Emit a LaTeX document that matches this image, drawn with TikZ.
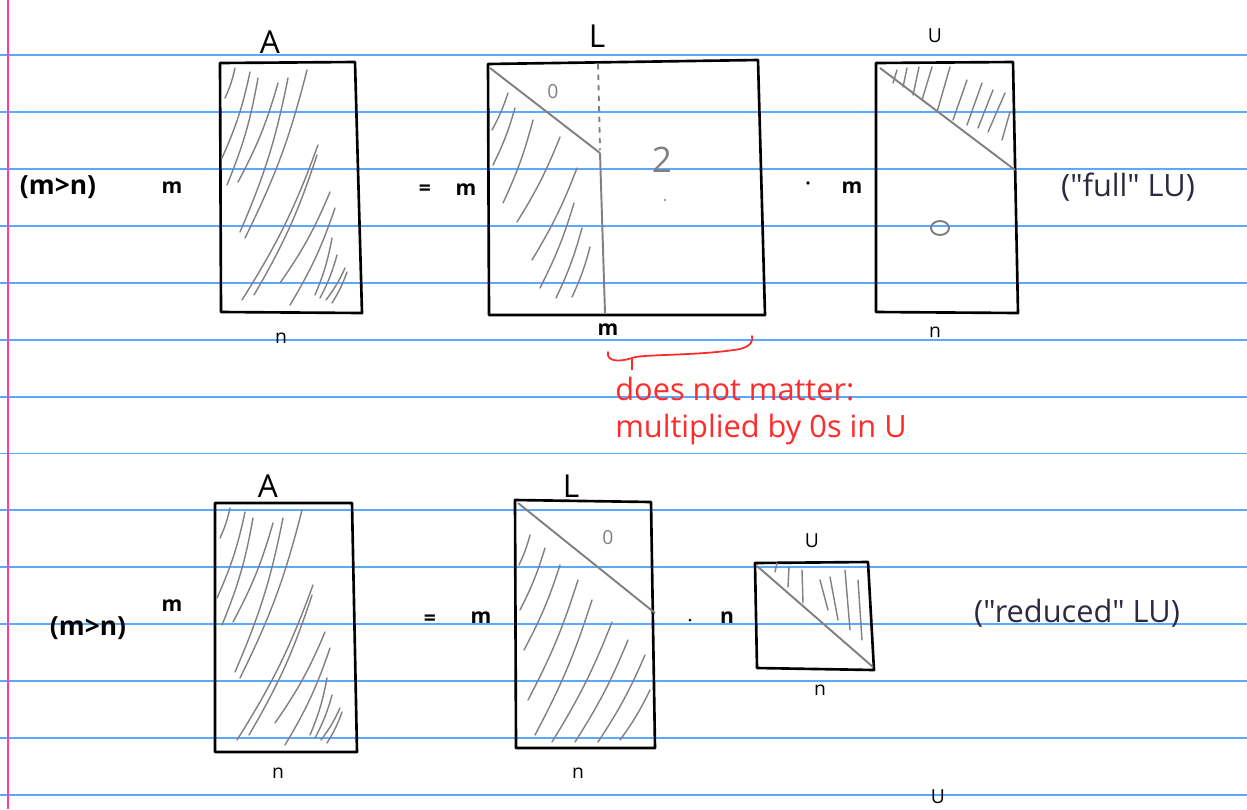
\documentclass[tikz,border=0pt]{standalone}
\usepackage{fontspec}
\setmainfont{Open Sans}
\newfontfamily\typedfont{Open Sans}[Ligatures=TeXOff]
\usetikzlibrary{positioning}
\definecolor{ruleblue}{HTML}{5AA8FF}
\definecolor{marginpink}{HTML}{FF3FA0}
\definecolor{inkgray}{HTML}{808080}
\definecolor{notered}{HTML}{FF2A2A}
\definecolor{typedink}{HTML}{2B2B40}
\tikzset{
  ruled/.style={ruleblue,line width=1.1pt},
  frame/.style={line width=1.5pt,line join=round},
  ink/.style={inkgray,line width=1.1pt},
  hatch/.style={inkgray,line width=0.8pt,line cap=round},
  hand/.style={font=\fontsize{12}{13}\selectfont\bfseries},
  handthin/.style={font=\fontsize{11}{12}\selectfont},
  handsize/.style={font=\fontsize{15}{16}\selectfont\bfseries},
  bigletter/.style={font=\fontsize{18}{20}\selectfont},
  typed/.style={typedink,font=\typedfont\fontsize{17.5}{21}\selectfont},
}

\begin{document}
\begin{tikzpicture}[x=0.02cm,y=-0.02cm]
\useasboundingbox (0,0) rectangle (1247,809);
% ruled paper
\foreach \k in {0,...,13}
  \draw[ruled] (0,{55.2+56.9*\k}) -- (1247,{55.2+56.9*\k});
\draw[marginpink,line width=1.2pt] (8,0) -- (8,809);

% ---- full LU ----
\node[handsize] (sizeA) at (58,187) {(m>n)};
\node[hand] (mA) at (172,188) {m};
\draw[frame] (220,63) -- (355,62) -- (362,313) -- (221,312) -- cycle;
\foreach \a/\b/\c/\d in {225/98/235/68, 222/158/250/72, 227/185/258/78, 238/182/278/83,
    240/232/288/78, 245/238/307/70, 242/300/318/145, 254/295/317/155, 280/283/330/192,
    290/305/335/208, 315/295/332/238, 320/298/337/255, 326/300/345/268, 332/303/347/272}
  \draw[hatch] (\a,\b) to[bend right=6] (\c,\d);
\node[bigletter] (lblA) at (270,42) {A};
\node[handthin] (nA) at (281,338) {n};

\node[hand] (eqone) at (425,190) {=};
\node[hand] (mL) at (466,190) {m};
\draw[frame] (488,64) -- (758,60) -- (765,315) -- (489,315) -- cycle;
\draw[ink] (490,68) -- (600,153);
\draw[ink,dashed] (598,64) -- (600,150);
\draw[ink] (600,153) -- (605,313);
\foreach \a/\b/\c/\d in {492/130/508/93, 493/165/515/108, 503/203/533/120, 517/222/560/137,
    532/260/577/168, 540/288/574/203, 556/298/582/228, 572/297/590/247}
  \draw[hatch] (\a,\b) to[bend right=5] (\c,\d);
\node[handthin,inkgray] (zeroL) at (553,92) {0};
\node[inkgray,font=\fontsize{20}{22}\selectfont] (askL) at (662,160) {2};
\fill[inkgray] (665,200) circle (1.2);
\node[bigletter] (lblL) at (597,36) {L};
\node[hand] (mLbelow) at (608,330) {m};

\fill (808,183) circle (1.8);
\node[hand] (mU) at (852,188) {m};
\draw[frame] (876,63) -- (1013,62) -- (1018,313) -- (876,312) -- cycle;
\draw[ink] (880,68) -- (1015,170);
\foreach \a/\b/\c/\d in {893/83/897/70, 903/87/907/68, 913/95/919/67, 922/100/932/67,
    937/112/950/67, 953/120/967/80, 967/125/982/83, 978/128/993/90, 988/132/1005/93,
    1002/140/1010/112}
  \draw[hatch] (\a,\b) -- (\c,\d);
\draw[ink] (940,228) ellipse (9 and 7);
\node[handthin] (lblU) at (935,36) {U};
\node[handthin] (nU) at (935,332) {n};
\node[typed] (full) at (1128,187) {("full" LU)};

% brace and note
\draw[notered,line width=1pt,line cap=round] (608,352) .. controls (606,362) and (620,362) .. (632,358)
  .. controls (640,354) and (700,356) .. (740,349) .. controls (752,346) and (753,340) .. (752,336);
\draw[notered,line width=1pt] (632,358) -- (632,370);
\node[typed,notered,anchor=north west,align=left,inner sep=0pt] (note) at (615,377)
  {does not matter:\\multiplied by 0s in U};

% ---- reduced LU ----
\node[handsize] (sizeB) at (88,628) {(m>n)};
\node[hand] (mB) at (172,606) {m};
\draw[frame] (215,503) -- (352,503) -- (357,752) -- (215,752) -- cycle;
\foreach \a/\b/\c/\d in {220/538/230/508, 217/598/245/512, 222/625/253/518, 233/622/273/523,
    235/672/283/518, 240/678/302/510, 237/740/313/585, 249/735/312/595, 275/723/325/632,
    285/745/330/648, 310/735/327/678, 315/738/332/695, 321/740/340/708, 327/743/342/712}
  \draw[hatch] (\a,\b) to[bend right=6] (\c,\d);
\node[bigletter] (lblAB) at (268,486) {A};
\node[handthin] (nAB) at (278,773) {n};

\node[hand] (eqtwo) at (430,620) {=};
\node[hand] (mLB) at (481,618) {m};
\draw[frame] (515,500) -- (651,502) -- (655,748) -- (516,748) -- cycle;
\draw[ink] (518,503) -- (655,613);
\foreach \a/\b/\c/\d in {519/565/530/535, 520/610/545/548, 524/650/560/565, 528/700/578/580,
    535/735/592/600, 552/742/612/622, 575/742/628/640, 598/742/645/655, 620/740/650/690}
  \draw[hatch] (\a,\b) to[bend right=5] (\c,\d);
\node[handthin,inkgray] (zeroLB) at (608,538) {0};
\node[bigletter] (lblLB) at (571,486) {L};
\node[handthin] (nLB) at (578,773) {n};

\fill (690,620) circle (1.5);
\node[hand] (nUB) at (727,618) {n};
\draw[frame] (755,563) -- (868,562) -- (874,670) -- (757,668) -- cycle;
\draw[ink] (757,566) -- (873,667);
\foreach \a/\b/\c/\d in {775/572/777/563, 788/587/789/567, 803/603/802/570, 820/580/828/610,
    830/577/838/620, 845/570/850/630, 858/580/862/640}
  \draw[hatch] (\a,\b) -- (\c,\d);
\node[handthin] (lblUB) at (812,541) {U};
\node[handthin] (nUBbelow) at (820,690) {n};
\node[typed] (reduced) at (1077,613) {("reduced" LU)};
\node[handthin] (strayU) at (938,797) {U};
\end{tikzpicture}
\end{document}
